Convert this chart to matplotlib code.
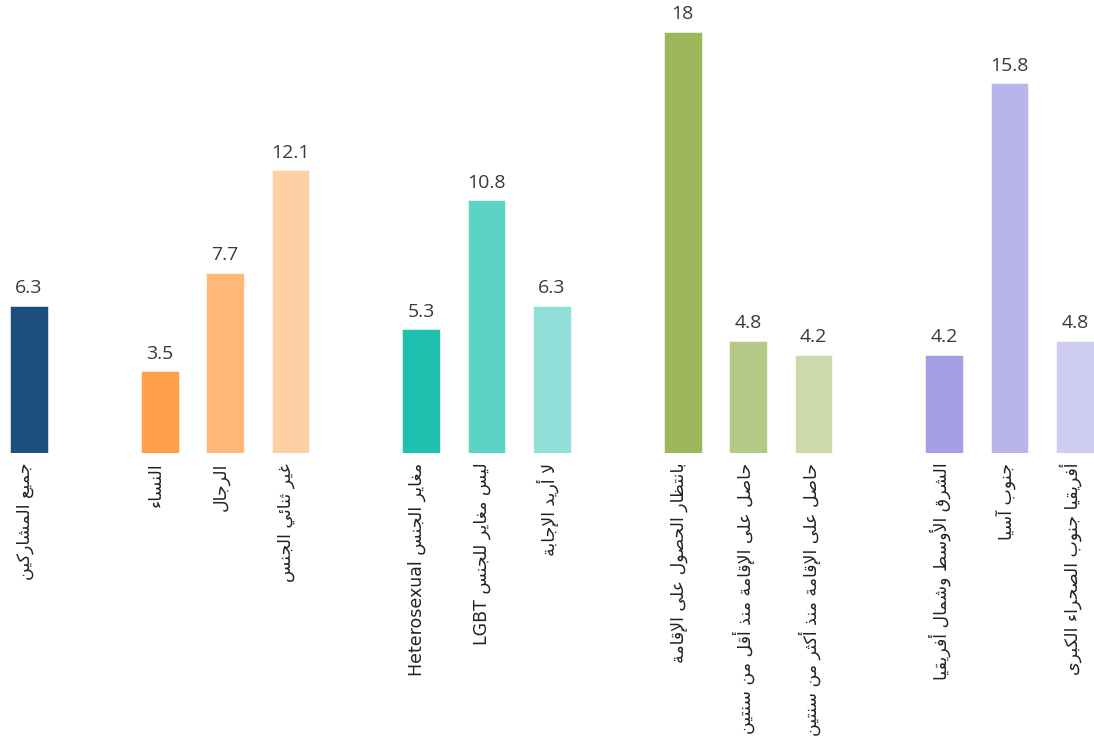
import matplotlib
matplotlib.use("Agg")
import matplotlib.pyplot as plt

# data
labels = [
    "جميع المشاركين",
    "النساء",
    "الرجال",
    "غير ثنائي الجنس",
    "مغاير الجنس Heterosexual",
    "ليس مغاير للجنس LGBT",
    "لا أريد الإجابة",
    "بانتظار الحصول على الإقامة",
    "حاصل على الإقامة منذ أقل من سنتين",
    "حاصل على الإقامة منذ أكثر من سنتين",
    "الشرق الأوسط وشمال أفريقيا",
    "جنوب آسيا",
    "أفريقيا جنوب الصحراء الكبرى",
]
values = [6.3, 3.5, 7.7, 12.1, 5.3, 10.8, 6.3, 18, 4.8, 4.2, 4.2, 15.8, 4.8]
value_labels = ["6.3", "3.5", "7.7", "12.1", "5.3", "10.8", "6.3", "18", "4.8", "4.2", "4.2", "15.8", "4.8"]
slots = [0, 2, 3, 4, 6, 7, 8, 10, 11, 12, 14, 15, 16]
colors = ["#1c4f7c",
          "#ff9f4a", "#ffb878", "#fecfa2",
          "#20c0b0", "#5dd3c6", "#91e0d9",
          "#9cb65a", "#b5c986", "#cfdaaa",
          "#a49ee5", "#b9b5eb", "#cfccf1"]

# minimal arabic shaping (matplotlib has no complex text layout)
DUAL = {'ئ': 0xFE89, 'ب': 0xFE8F, 'ت': 0xFE95, 'ث': 0xFE99, 'ج': 0xFE9D, 'ح': 0xFEA1,
        'خ': 0xFEA5, 'س': 0xFEB1, 'ش': 0xFEB5, 'ص': 0xFEB9, 'ض': 0xFEBD, 'ط': 0xFEC1,
        'ظ': 0xFEC5, 'ع': 0xFEC9, 'غ': 0xFECD, 'ف': 0xFED1, 'ق': 0xFED5, 'ك': 0xFED9,
        'ل': 0xFEDD, 'م': 0xFEE1, 'ن': 0xFEE5, 'ه': 0xFEE9, 'ي': 0xFEF1}
RIGHT = {'آ': 0xFE81, 'أ': 0xFE83, 'ؤ': 0xFE85, 'إ': 0xFE87, 'ا': 0xFE8D, 'ة': 0xFE93,
         'د': 0xFEA9, 'ذ': 0xFEAB, 'ر': 0xFEAD, 'ز': 0xFEAF, 'و': 0xFEED, 'ى': 0xFEEF}
LAMALEF = {'آ': 0xFEF5, 'أ': 0xFEF7, 'إ': 0xFEF9, 'ا': 0xFEFB}


def is_arabic(word):
    return any('\u0600' <= c <= '\u06ff' for c in word)


def shape_word(word):
    units = []
    i = 0
    while i < len(word):
        c = word[i]
        if c == 'ل' and i + 1 < len(word) and word[i + 1] in LAMALEF:
            units.append(('R', LAMALEF[word[i + 1]]))
            i += 2
            continue
        if c in DUAL:
            units.append(('D', DUAL[c]))
        elif c in RIGHT:
            units.append(('R', RIGHT[c]))
        else:
            units.append(('N', ord(c)))
        i += 1
    out = []
    for k, (kind, base) in enumerate(units):
        prev_joins = k > 0 and units[k - 1][0] == 'D' and kind != 'N'
        next_joins = kind == 'D' and k + 1 < len(units) and units[k + 1][0] != 'N'
        if kind == 'N':
            out.append(chr(base))
        elif kind == 'R':
            out.append(chr(base + (1 if prev_joins else 0)))
        else:
            if prev_joins and next_joins:
                out.append(chr(base + 3))
            elif next_joins:
                out.append(chr(base + 2))
            elif prev_joins:
                out.append(chr(base + 1))
            else:
                out.append(chr(base))
    return "".join(out)


def visual(text):
    words = []
    for w in text.split(" "):
        words.append(shape_word(w)[::-1] if is_arabic(w) else w)
    return " ".join(words[::-1])


fig = plt.figure(figsize=(10.94, 7.49), dpi=100)
ax = fig.add_axes([0, 0.3952, 1, 0.6048])

ax.bar(slots, values, width=0.575, color=colors, edgecolor="white", linewidth=0.4)

for x, v, t in zip(slots, values, value_labels):
    ax.annotate(t, xy=(x, v), xytext=(0, 6), textcoords="offset points",
                ha="center", va="bottom", fontsize=14, color="#3a3a3a",
                family=["Open Sans", "DejaVu Sans"])

for x, lbl in zip(slots, labels):
    ax.annotate(visual(lbl), xy=(x, 0), xytext=(-3, -7), textcoords="offset points",
                rotation=90, ha="center", va="top", fontsize=12.5, color="#222222",
                family=["DejaVu Sans"], annotation_clip=False)

ax.set_xlim(-0.443, 16.29)
ax.set_ylim(0, 19.36)
ax.axis("off")

fig.savefig("out.png", dpi=100, facecolor="white")
